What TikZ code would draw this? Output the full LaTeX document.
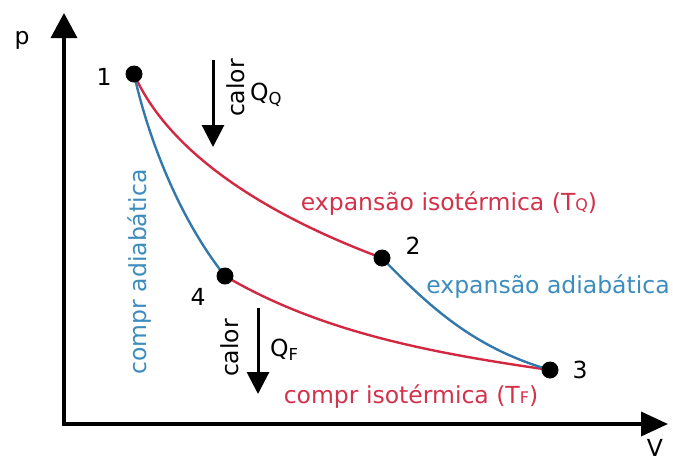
\documentclass[tikz,border=0pt]{standalone}
\usepackage{fontspec}
\setmainfont{DejaVu Sans}
\usetikzlibrary{arrows.meta,backgrounds}
\definecolor{cred}{RGB}{210,40,65}
\definecolor{cblue}{RGB}{50,120,170}
\definecolor{tred}{RGB}{210,50,75}
\definecolor{tblue}{RGB}{60,140,190}
\begin{document}
\begin{tikzpicture}[x=1pt,y=-1pt,
  dot/.style={circle,fill=black,minimum size=17pt,inner sep=0pt},
  redline/.style={draw=cred,line width=2.4pt},
  blueline/.style={draw=cblue,line width=2.4pt},
  axis/.style={line width=3.6pt,black},
  heat/.style={line width=3pt,black,-{Triangle[length=22pt,width=22pt]}},
  lbl/.style={inner sep=0pt,font=\fontsize{23.5}{27}\selectfont},
  redtxt/.style={lbl,text=tred},
  bluetxt/.style={lbl,text=tblue}]
\useasboundingbox (0,0) rectangle (673,461);
% axes
\coordinate (O) at (64,424);
\coordinate (ytop) at (64,13);
\coordinate (xend) at (668,424);
\draw[axis,{Triangle[length=25pt,width=26pt]}-{Triangle[length=27pt,width=24pt]}] (ytop) -- (O) -- (xend);
\node[lbl] (plab) at (22,40) {p};
\node[lbl,anchor=south] (vlab) at (655,457) {V};
% state points
\node[dot] (p1) at (134,74) {};
\node[dot] (p2) at (382,258) {};
\node[dot] (p3) at (550,370) {};
\node[dot] (p4) at (225,276) {};
\begin{scope}[on background layer]
\draw[redline] (p1.center) .. controls (168,151) and (261,213) .. (p2.center);
\draw[blueline] (p1.center) .. controls (149,142) and (181,221) .. (p4.center);
\draw[redline] (p4.center) .. controls (320,332) and (431,353) .. (p3.center);
\draw[blueline] (p2.center) .. controls (434,312) and (478,349) .. (p3.center);
\end{scope}
\node[lbl] (n1) at (104,77) {1};
\node[lbl] (n2) at (413,246) {2};
\node[lbl] (n3) at (580,370) {3};
\node[lbl] (n4) at (198,297) {4};
% heat arrows
\coordinate (a1s) at (213,60);
\coordinate (a1e) at (213,147);
\draw[heat] (a1s) -- (a1e);
\node[lbl,rotate=90] (cal1) at (236,88) {calor};
\node[lbl,anchor=west] (qq) at (250,95) {Q\textsubscript{Q}};
\coordinate (a2s) at (258,308);
\coordinate (a2e) at (258,394);
\draw[heat] (a2s) -- (a2e);
\node[lbl,rotate=90] (cal2) at (230,348) {calor};
\node[lbl,anchor=west] (qf) at (270,350) {Q\textsubscript{F}};
% process labels
\node[redtxt] (t12) at (449,204) {expansão isotérmica (T{\fontsize{16}{16}\selectfont Q})};
\node[bluetxt] (t23) at (548,287) {expansão adiabática};
\node[redtxt] (t34) at (411,397) {compr isotérmica (T{\fontsize{16}{16}\selectfont F})};
\node[bluetxt,rotate=90] (t41) at (140,272) {compr adiabática};
\end{tikzpicture}
\end{document}
